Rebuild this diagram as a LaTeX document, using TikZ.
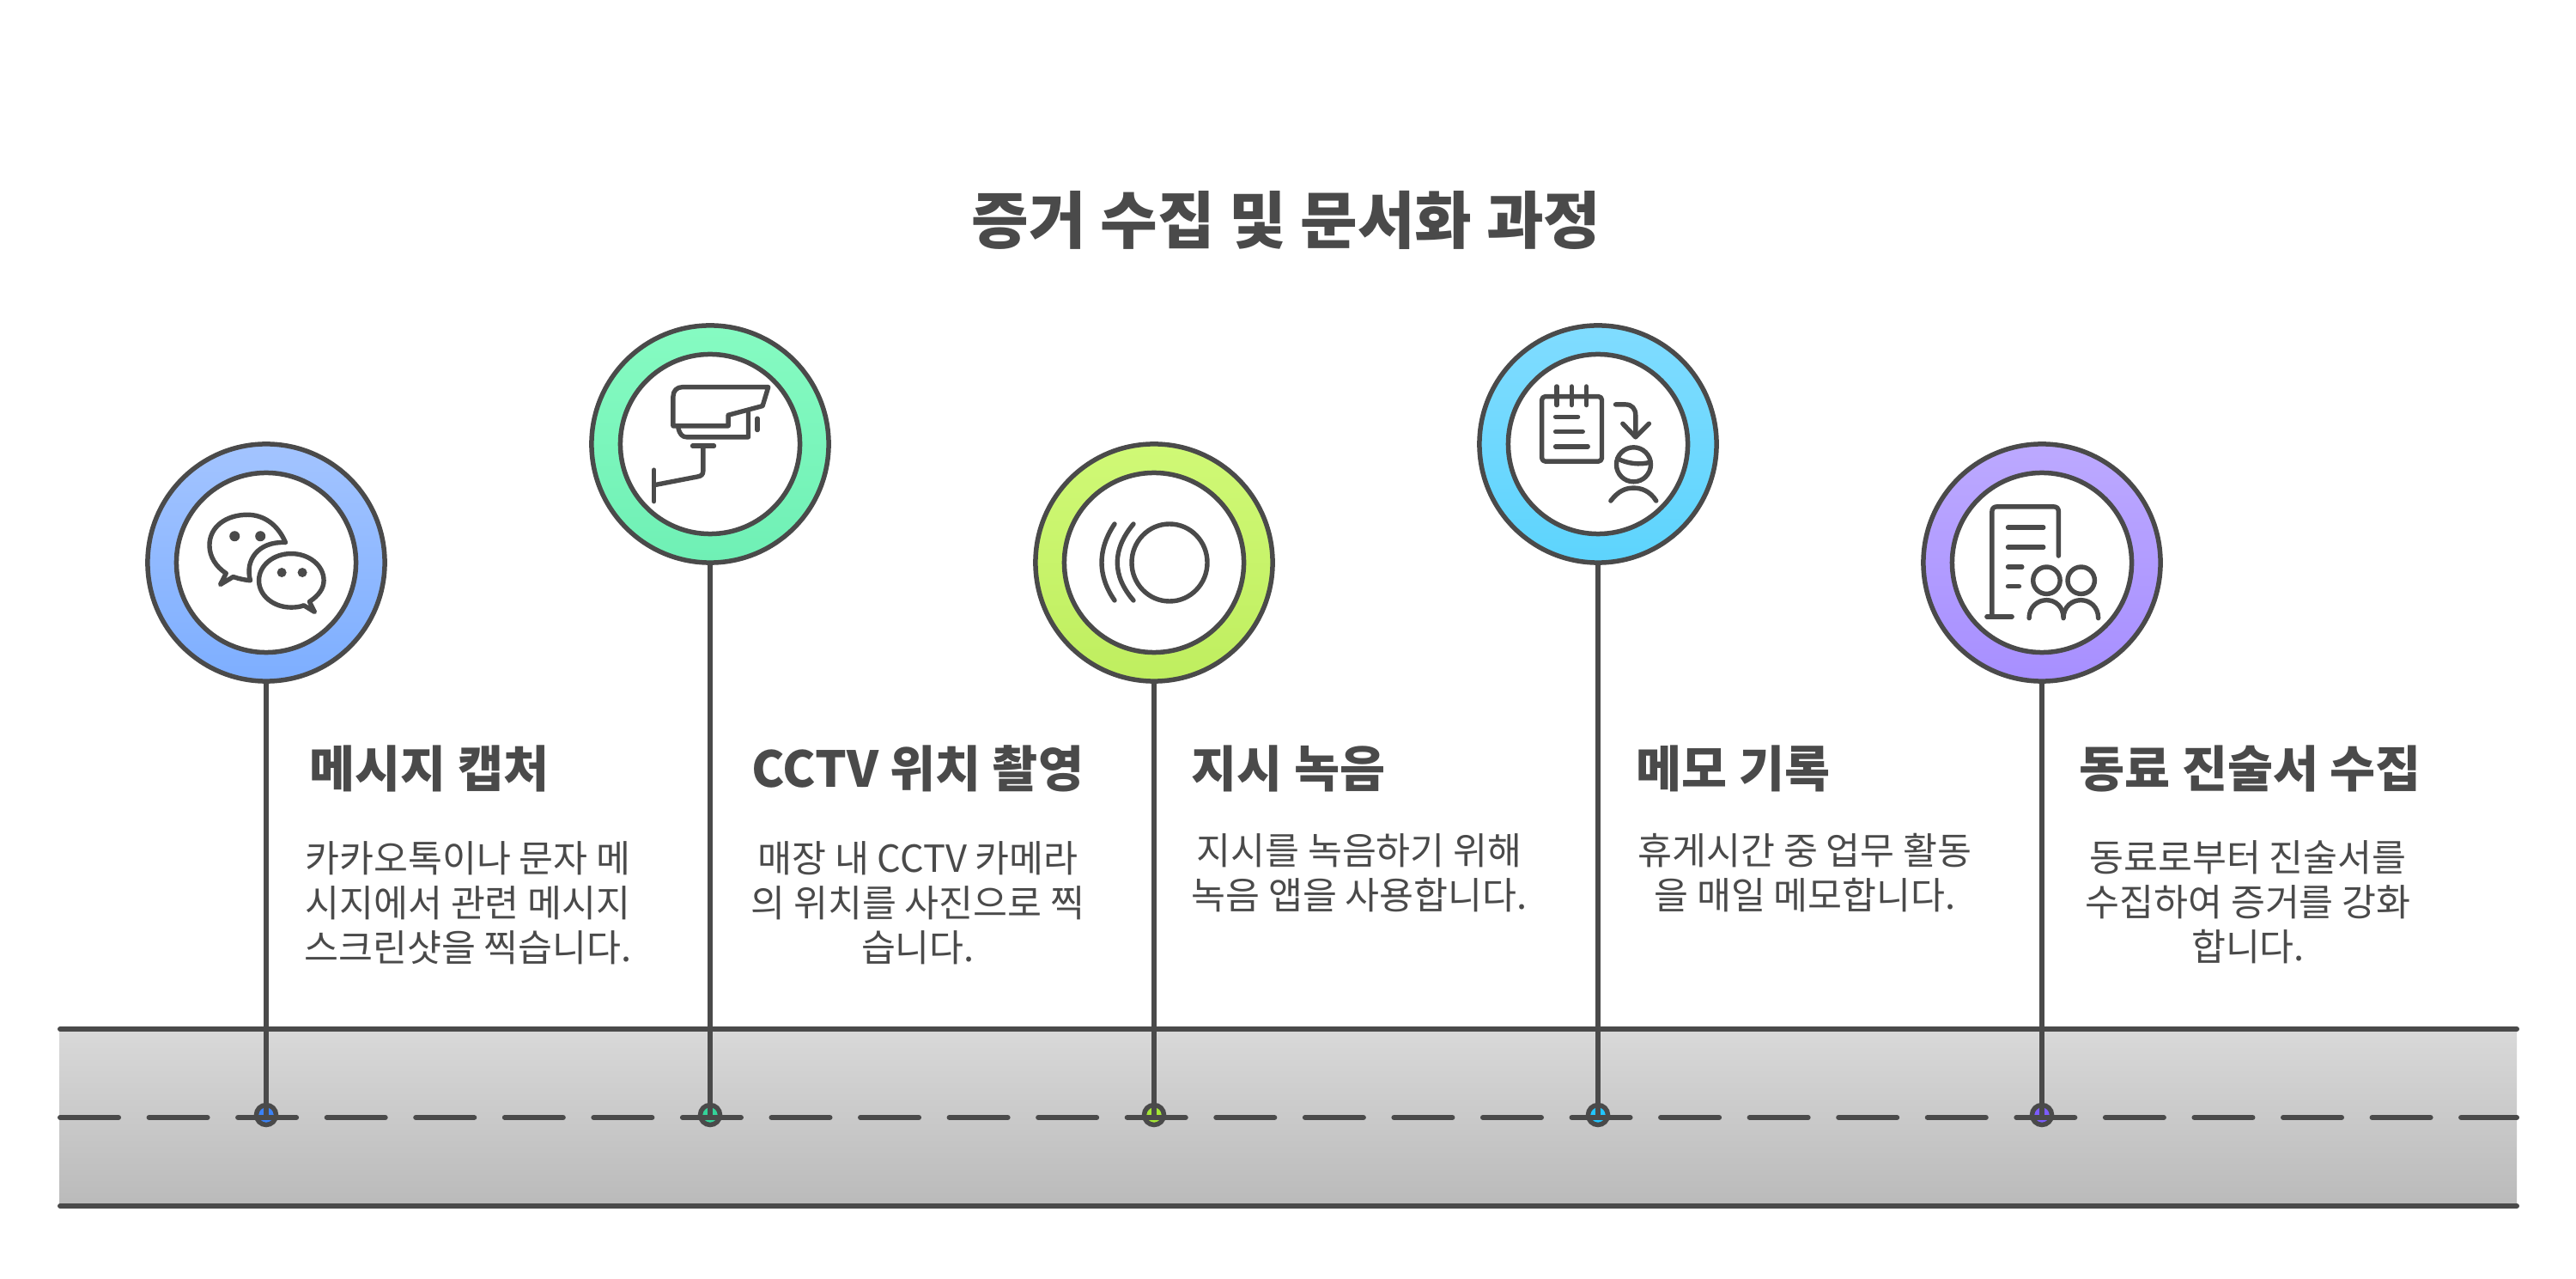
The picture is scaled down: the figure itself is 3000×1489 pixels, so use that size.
\documentclass[tikz,border=0pt]{standalone}
\usepackage{fontspec}
\setmainfont{Noto Sans CJK KR}
\definecolor{ink}{HTML}{4A4A4A}
\definecolor{dotblue}{HTML}{3B82F6}
\definecolor{dotgreen}{HTML}{34D399}
\definecolor{dotlime}{HTML}{A3E635}
\definecolor{dotcyan}{HTML}{22C5FE}
\definecolor{dotviolet}{HTML}{7C5CFF}
\tikzset{
  x=0.01cm,y=-0.01cm,
  ringouter/.style={circle,draw=ink,line width=0.055cm,minimum size=2.76cm,inner sep=0pt},
  ringinner/.style={circle,draw=ink,line width=0.055cm,fill=white,minimum size=2.09cm,inner sep=0pt},
  dotnode/.style={circle,draw=ink,line width=0.055cm,minimum size=0.23cm,inner sep=0pt},
  stem/.style={draw=ink,line width=0.055cm},
  rail/.style={draw=ink,line width=0.06cm,line cap=round},
  icon/.style={draw=ink,line width=0.054cm,line cap=round,line join=round},
  titletext/.style={text=ink,inner sep=0pt,font=\fontsize{20.6pt}{25pt}\selectfont\bfseries},
  headtext/.style={text=ink,inner sep=0pt,anchor=west,font=\fontsize{16.4pt}{19pt}\selectfont\bfseries},
  bodytext/.style={text=ink,inner sep=0pt,align=center,font=\fontsize{12.35pt}{14.8pt}\selectfont},
}
\begin{document}
\begin{tikzpicture}
\path[use as bounding box,fill=white] (0,0) rectangle (3000,1489);
\node[titletext] (title) at (1498,256) {증거 수집 및 문서화 과정};
% band
\shade[top color=black!15,bottom color=black!27] (69,1198) rectangle (2931,1404);
\coordinate (railTL) at (70,1198); \coordinate (railTR) at (2931,1198);
\coordinate (railML) at (70,1301); \coordinate (railMR) at (2931,1301);
\coordinate (railBL) at (70,1404); \coordinate (railBR) at (2931,1404);
\node[dotnode,fill=dotblue] (dot1) at (310,1298) {};
\node[dotnode,fill=dotgreen] (dot2) at (827,1298) {};
\node[dotnode,fill=dotlime] (dot3) at (1344,1298) {};
\node[dotnode,fill=dotcyan] (dot4) at (1861,1298) {};
\node[dotnode,fill=dotviolet] (dot5) at (2378,1298) {};
\draw[rail] (railTL) -- (railTR);
\draw[rail] (railBL) -- (railBR);
\draw[rail,dash pattern=on 0.68cm off 0.355cm] (railML) -- (railMR);
% rings
\node[ringouter,top color={rgb,255:red,163;green,196;blue,255},bottom color={rgb,255:red,125;green,174;blue,255}] (ring1) at (310,655) {};
\node[ringouter,top color={rgb,255:red,134;green,251;blue,194},bottom color={rgb,255:red,111;green,240;blue,181}] (ring2) at (827,517) {};
\node[ringouter,top color={rgb,255:red,208;green,249;blue,118},bottom color={rgb,255:red,191;green,238;blue,95}] (ring3) at (1344,655) {};
\node[ringouter,top color={rgb,255:red,128;green,220;blue,255},bottom color={rgb,255:red,93;green,212;blue,253}] (ring4) at (1861,517) {};
\node[ringouter,top color={rgb,255:red,188;green,169;blue,255},bottom color={rgb,255:red,167;green,143;blue,255}] (ring5) at (2378,655) {};
\node[ringinner] (hole1) at (310,655) {};
\node[ringinner] (hole2) at (827,517) {};
\node[ringinner] (hole3) at (1344,655) {};
\node[ringinner] (hole4) at (1861,517) {};
\node[ringinner] (hole5) at (2378,655) {};
\draw[stem] (ring1.south) -- (dot1.center);
\draw[stem] (ring2.south) -- (dot2.center);
\draw[stem] (ring3.south) -- (dot3.center);
\draw[stem] (ring4.south) -- (dot4.center);
\draw[stem] (ring5.south) -- (dot5.center);
% texts
\node[headtext] (h1) at (360,895) {메시지 캡처};
\node[headtext] (h2) at (875,895) {CCTV 위치 촬영};
\node[headtext] (h3) at (1387,895) {지시 녹음};
\node[headtext] (h4) at (1905,895) {메모 기록};
\node[headtext] (h5) at (2421,895) {동료 진술서 수집};
\node[bodytext] (b1) at (545,1051) {카카오톡이나 문자 메\\시지에서 관련 메시지\\스크린샷을 찍습니다.};
\node[bodytext] (b2) at (1069,1051) {매장 내 CCTV 카메라\\의 위치를 사진으로 찍\\습니다.};
\node[bodytext] (b3) at (1583,1016) {지시를 녹음하기 위해\\녹음 앱을 사용합니다.};
\node[bodytext] (b4) at (2102,1016) {휴게시간 중 업무 활동\\을 매일 메모합니다.};
\node[bodytext] (b5) at (2618,1050) {동료로부터 진술서를\\수집하여 증거를 강화\\합니다.};
% icon 1: chat
\begin{scope}[shift={(220,570)},x=0.003333cm,y=-0.003333cm]
\path[icon] (338,185) .. controls (310,120) and (260,88) .. (205,88) .. controls (130,88) and (72,130) .. (72,195) .. controls (72,235) and (95,270) .. (130,293) -- (110,332) -- (155,305) .. controls (175,312) and (195,316) .. (215,318) .. controls (195,250) and (240,180) .. (338,185) -- cycle;
\path[icon] (422,392) .. controls (455,370) and (472,345) .. (472,318) .. controls (472,265) and (420,224) .. (358,224) .. controls (296,224) and (245,265) .. (245,318) .. controls (245,371) and (296,412) .. (358,412) .. controls (375,412) and (390,410) .. (402,405) -- (440,428) -- cycle;
\fill[ink] (160,163) circle (0.06cm) (250,163) circle (0.06cm) (325,290) circle (0.055cm) (397,290) circle (0.055cm);
\end{scope}
% icon 2: camera
\begin{scope}[shift={(740,430)},x=0.003333cm,y=-0.003333cm]
\path[icon] (465,62) -- (165,62) .. controls (145,62) and (132,75) .. (132,95) -- (132,198) -- (325,198) -- (325,160) -- (445,128) -- cycle;
\path[icon] (150,205) .. controls (155,228) and (165,237) .. (180,237) -- (395,237) -- (395,150);
\path[icon] (427,172) -- (427,212);
\path[icon] (200,268) -- (275,268);
\path[icon] (237,268) -- (237,355) .. controls (237,368) and (230,373) .. (220,375) -- (65,405);
\path[icon] (65,352) -- (65,462);
\end{scope}
% icon 3: sound
\path[icon] (1362,655) ellipse (44 and 45);
\path[icon] (1320,610) .. controls (1295,640) and (1295,670) .. (1320,699);
\path[icon] (1298,610) .. controls (1278,640) and (1278,670) .. (1298,699);
% icon 4: memo
\begin{scope}[shift={(1770,430)},x=0.003333cm,y=-0.003333cm]
\path[icon,rounded corners=0.04cm] (77,95) rectangle (287,322);
\path[icon] (129,60) -- (129,125) (181,60) -- (181,125) (233,60) -- (233,125);
\path[icon] (125,166) -- (203,166) (125,218) -- (220,218) (125,270) -- (238,270);
\path[icon] (335,123) -- (370,123) .. controls (392,123) and (405,138) .. (405,160) -- (405,235);
\path[icon] (360,190) -- (405,237) -- (452,190);
\path[icon] (398,333) circle (0.2cm);
\path[icon] (342,312) .. controls (375,330) and (420,335) .. (456,325);
\path[icon] (318,460) .. controls (345,425) and (370,415) .. (398,415) .. controls (425,415) and (455,425) .. (477,460);
\end{scope}
% icon 5: statement
\begin{scope}[shift={(2220,500)},x=0.003333cm,y=-0.003333cm]
\path[icon] (533,442) -- (533,288) .. controls (533,276) and (527,270) .. (515,270) -- (318,270) .. controls (306,270) and (300,276) .. (300,288) -- (300,655);
\path[icon] (282,655) -- (370,655);
\path[icon] (356,343) -- (480,343) (356,412) -- (480,412) (356,481) -- (405,481) (356,549) -- (395,549);
\path[icon] (491,528) circle (0.157cm) (612,528) circle (0.157cm);
\path[icon] (430,660) .. controls (430,620) and (460,597) .. (491,597) .. controls (522,597) and (550,620) .. (550,660) .. controls (550,620) and (580,597) .. (611,597) .. controls (642,597) and (672,620) .. (672,660);
\end{scope}
\end{tikzpicture}
\end{document}
